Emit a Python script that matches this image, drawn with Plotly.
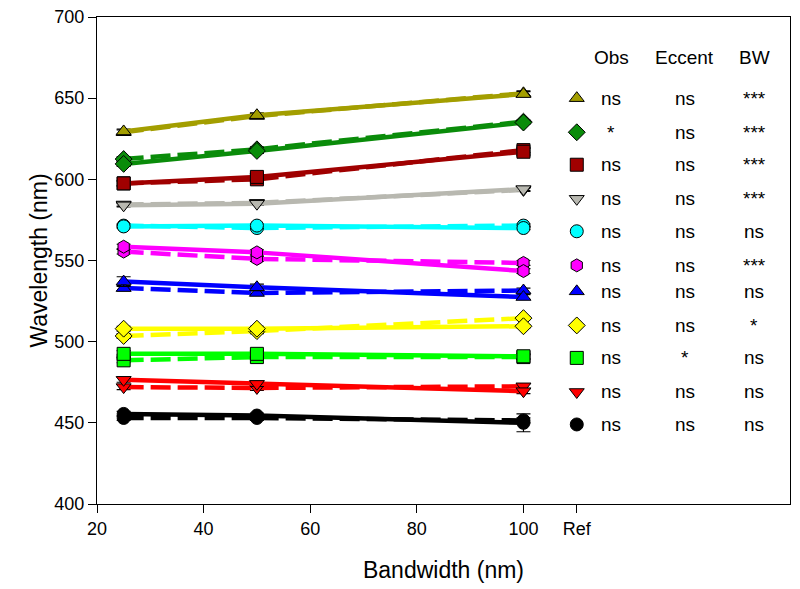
import plotly.graph_objects as go

bandwidth = [25, 50, 100]

names = ["olive", "green", "darkred", "gray", "cyan", "magenta",
         "blue", "yellow", "lime", "red", "black"]
colors = ["#A39E00", "#0A8C0A", "#A00000", "#B8B8B0", "#00FFFF", "#FF00FF",
          "#0000FF", "#FFFF00", "#00FF00", "#FF0000", "#000000"]
symbols = ["triangle-up", "diamond", "square", "triangle-down", "circle", "hexagon",
           "triangle-up", "diamond", "square", "triangle-down", "circle"]

solid_vals = [
    [629.5, 639.5, 652.5],
    [609.5, 617.5, 635.0],
    [597.5, 601.5, 617.0],
    [584.0, 585.0, 594.0],
    [571.0, 571.5, 570.0],
    [558.5, 555.0, 543.5],
    [537.0, 533.5, 527.5],
    [508.0, 508.0, 509.5],
    [492.5, 492.5, 491.0],
    [476.5, 474.0, 469.5],
    [455.5, 454.5, 450.0],
]
solid_err = [
    [1.5, 1.5, 1.5], [1.5, 1.5, 1.0], [1.5, 2.0, 2.0], [1.0, 1.0, 1.0],
    [1.0, 1.0, 1.0], [1.5, 1.5, 1.5], [3.0, 2.0, 1.5], [1.5, 1.5, 1.0],
    [2.0, 2.0, 1.5], [1.5, 1.5, 1.5], [1.5, 1.5, 5.5],
]
dashed_vals = [
    [629.0, 639.0, 653.0],
    [612.5, 618.5, 635.5],
    [597.5, 600.0, 618.0],
    [584.5, 585.5, 593.5],
    [571.5, 570.0, 571.5],
    [555.5, 551.0, 548.5],
    [533.0, 530.0, 531.5],
    [503.5, 506.5, 514.5],
    [488.5, 490.5, 490.5],
    [472.0, 471.5, 472.5],
    [453.0, 453.0, 451.5],
]
dashed_err = [
    [1.5, 1.5, 1.5], [1.5, 1.5, 1.0], [1.5, 1.5, 1.5], [1.0, 1.0, 1.0],
    [1.0, 1.0, 1.0], [1.5, 1.5, 1.5], [1.5, 1.5, 1.5], [1.5, 1.5, 1.0],
    [1.5, 1.5, 1.5], [1.5, 1.5, 1.5], [1.5, 1.5, 1.5],
]

# Key table (right side)
ref_x = 110
key_y = [650, 629, 609, 588, 568, 547, 531, 510, 490, 469, 449]
col_x = [116.5, 130.3, 143.3]
col_headers = ["Obs", "Eccent", "BW"]
header_y = 675
obs_sig = ["ns", "*", "ns", "ns", "ns", "ns", "ns", "ns", "ns", "ns", "ns"]
ecc_sig = ["ns", "ns", "ns", "ns", "ns", "ns", "ns", "ns", "*", "ns", "ns"]
bw_sig = ["***", "***", "***", "***", "ns", "***", "ns", "*", "ns", "ns", "ns"]

x_tickvals = [20, 40, 60, 80, 100, 110]
x_ticktext = ["20", "40", "60", "80", "100", "Ref"]
y_tickvals = [400, 450, 500, 550, 600, 650, 700]

FONT = "Liberation Sans, Arial, sans-serif"

fig = go.Figure()

for i in range(len(names)):
    for vals, errs, dash in ((dashed_vals[i], dashed_err[i], "20px,7px"),
                             (solid_vals[i], solid_err[i], "solid")):
        fig.add_trace(go.Scatter(
            x=bandwidth, y=vals, mode="lines+markers",
            line=dict(color=colors[i], width=4.5, dash=dash),
            marker=dict(symbol=symbols[i], size=13, color=colors[i],
                        line=dict(color="black", width=1)),
            error_y=dict(type="data", array=errs, visible=True,
                         color="black", thickness=1.2, width=7),
            showlegend=False, hoverinfo="skip"))

fig.add_trace(go.Scatter(
    x=[ref_x] * len(key_y), y=key_y, mode="markers",
    marker=dict(symbol=symbols, size=13, color=colors,
                line=dict(color="black", width=1)),
    showlegend=False, hoverinfo="skip"))

txt_font = dict(family=FONT, size=19, color="black")
for cx, h in zip(col_x, col_headers):
    fig.add_annotation(x=cx, y=header_y, text=h, showarrow=False,
                       xref="x", yref="y", font=txt_font)
for col, cx in zip([obs_sig, ecc_sig, bw_sig], col_x):
    for s, yy in zip(col, key_y):
        fig.add_annotation(x=cx, y=yy, text=s, showarrow=False,
                           xref="x", yref="y", font=txt_font)

axis_common = dict(showline=True, linecolor="black", linewidth=1.2, mirror=True,
                   ticks="outside", ticklen=8, tickcolor="black", tickwidth=1.2,
                   showgrid=False, zeroline=False, ticklabeloverflow="allow",
                   tickfont=dict(family=FONT, size=18, color="black"))

fig.update_layout(
    width=792, height=581,
    paper_bgcolor="white", plot_bgcolor="white",
    margin=dict(l=89, r=10, t=9, b=85, autoexpand=False),
    xaxis=dict(range=[20, 150], tickvals=x_tickvals, ticktext=x_ticktext,
               title=dict(text="Bandwidth (nm)", standoff=24,
                          font=dict(family=FONT, size=23, color="black")),
               **axis_common),
    yaxis=dict(range=[400, 700], tickvals=y_tickvals,
               title=dict(text="Wavelength (nm)", standoff=0,
                          font=dict(family=FONT, size=23, color="black")),
               **axis_common),
)

fig.write_html("out.html")
